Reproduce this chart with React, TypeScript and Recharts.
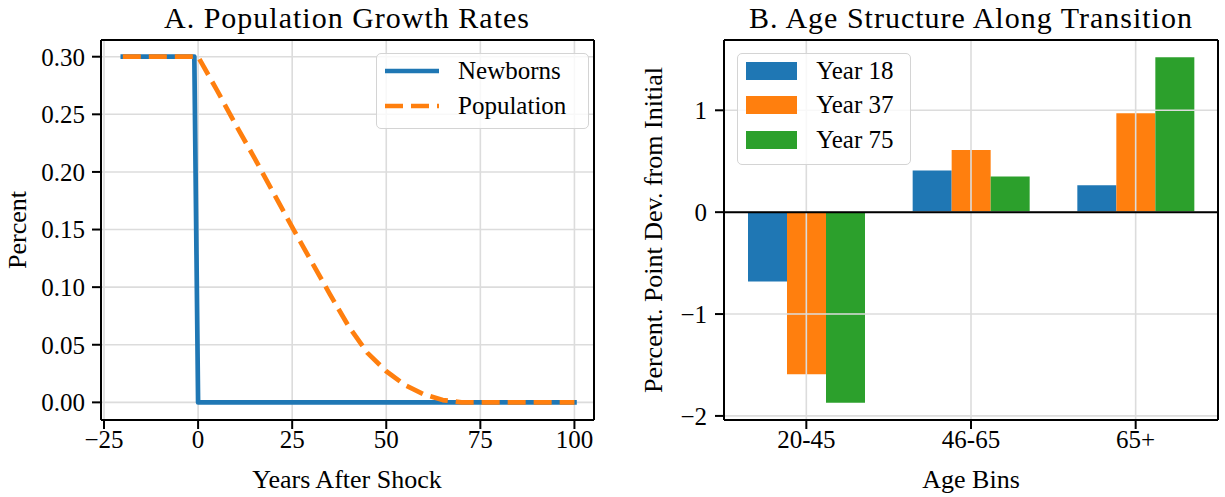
import {
    LineChart,
    Line,
    BarChart,
    Bar,
    XAxis,
    YAxis,
    CartesianGrid,
    ReferenceLine,
} from 'recharts';

// Panel A: growth rates (percent) by years after shock
const newbornYears = [-20, -1, 0, 100];
const newbornRates = [0.3, 0.3, 0.0, 0.0];
const populationYears = [-20, 0, 5, 10, 15, 20, 25, 30, 35, 40, 45, 50, 55, 60, 65, 70, 100];
const populationRates = [
    0.3, 0.3, 0.271, 0.241, 0.212, 0.182, 0.152, 0.123, 0.094, 0.066, 0.043, 0.027, 0.015,
    0.007, 0.002, 0.0, 0.0,
];
const growthXTicks = [-25, 0, 25, 50, 75, 100];
const growthYTicks = [0, 0.05, 0.1, 0.15, 0.2, 0.25, 0.3];

// Panel B: age structure, percent point deviation from initial
const ageBins = ['20-45', '46-65', '65+'];
const year18 = [-0.68, 0.41, 0.265];
const year37 = [-1.59, 0.61, 0.97];
const year75 = [-1.87, 0.35, 1.52];
const ageYTicks = [-2, -1, 0, 1];

const lineSeries = [
    { key: 'newborns', name: 'Newborns', color: '#1f77b4', dash: undefined as string | undefined },
    { key: 'population', name: 'Population', color: '#ff7f0e', dash: '18 8' },
];
const barSeries = [
    { key: 'y18', name: 'Year 18', color: '#1f77b4' },
    { key: 'y37', name: 'Year 37', color: '#ff7f0e' },
    { key: 'y75', name: 'Year 75', color: '#2ca02c' },
];

const allYears = Array.from(new Set([...newbornYears, ...populationYears])).sort((a, b) => a - b);
const growthTable = allYears.map((year) => {
    const n = newbornYears.indexOf(year);
    const p = populationYears.indexOf(year);
    return {
        year,
        newborns: n >= 0 ? newbornRates[n] : null,
        population: p >= 0 ? populationRates[p] : null,
    };
});

const ageTable = ageBins.map((bin, i) => ({
    bin,
    y18: year18[i],
    y37: year37[i],
    y75: year75[i],
}));

const FONT = '"Liberation Serif", "Times New Roman", serif';
const GRID = '#dcdcdc';
const tickStyle = { fill: '#000', fontSize: 25, fontFamily: FONT };
const blackLine = { stroke: '#000', strokeWidth: 2 };

const growthXDomain: [number, number] = [-25.8, 105.2];
const growthYDomain: [number, number] = [-0.0153, 0.3145];
const ageYDomain: [number, number] = [-2.04, 1.69];

const signed = (v: number) => (v < 0 ? `\u2212${Math.abs(v)}` : `${v}`);

export default function App() {
    return (
        <div
            style={{
                position: 'absolute',
                left: 0,
                top: 0,
                width: 1225,
                height: 497,
                background: '#fff',
                fontFamily: FONT,
                color: '#000',
            }}
        >
            {/* Titles and axis labels */}
            <svg
                width={1225}
                height={497}
                style={{ position: 'absolute', left: 0, top: 0 }}
                fontFamily={FONT}
            >
                <text x={347} y={28} fontSize={30} letterSpacing={1} textAnchor="middle">
                    A. Population Growth Rates
                </text>
                <text x={971} y={28} fontSize={30} letterSpacing={1} textAnchor="middle">
                    B. Age Structure Along Transition
                </text>
                <text x={347} y={488} fontSize={26} textAnchor="middle">
                    Years After Shock
                </text>
                <text x={971} y={488} fontSize={26} textAnchor="middle">
                    Age Bins
                </text>
                <text transform="translate(25.5,230) rotate(-90)" fontSize={26} textAnchor="middle">
                    Percent
                </text>
                <text transform="translate(661.5,230) rotate(-90)" fontSize={26} textAnchor="middle">
                    Percent. Point Dev. from Initial
                </text>
            </svg>

            {/* Panel A */}
            <div style={{ position: 'absolute', left: 0, top: 0 }}>
                <LineChart
                    width={612}
                    height={497}
                    data={growthTable}
                    margin={{ top: 39, right: 17, bottom: 37, left: 0 }}
                >
                    <CartesianGrid stroke={GRID} strokeWidth={1.6} />
                    <XAxis
                        type="number"
                        dataKey="year"
                        domain={growthXDomain}
                        ticks={growthXTicks}
                        allowDataOverflow
                        interval={0}
                        height={40}
                        tickSize={9}
                        tickMargin={1}
                        tick={tickStyle}
                        tickLine={blackLine}
                        axisLine={blackLine}
                        tickFormatter={signed}
                    />
                    <XAxis
                        xAxisId="top"
                        orientation="top"
                        type="number"
                        domain={growthXDomain}
                        allowDataOverflow
                        height={1}
                        tick={false}
                        tickLine={false}
                        axisLine={blackLine}
                    />
                    <YAxis
                        type="number"
                        domain={growthYDomain}
                        ticks={growthYTicks}
                        allowDataOverflow
                        interval={0}
                        width={101}
                        tickSize={9}
                        tickMargin={7}
                        tick={tickStyle}
                        tickLine={blackLine}
                        axisLine={blackLine}
                        tickFormatter={(v: number) => v.toFixed(2)}
                    />
                    <YAxis
                        yAxisId="right"
                        orientation="right"
                        type="number"
                        domain={growthYDomain}
                        allowDataOverflow
                        width={1}
                        tick={false}
                        tickLine={false}
                        axisLine={blackLine}
                    />
                    {lineSeries.map((s) => (
                        <Line
                            key={s.key}
                            type="linear"
                            dataKey={s.key}
                            name={s.name}
                            stroke={s.color}
                            strokeWidth={4.7}
                            strokeDasharray={s.dash}
                            strokeLinecap={s.dash ? 'butt' : 'square'}
                            strokeLinejoin="round"
                            dot={false}
                            activeDot={false}
                            connectNulls
                            isAnimationActive={false}
                        />
                    ))}
                </LineChart>
            </div>

            {/* Panel B */}
            <div style={{ position: 'absolute', left: 612, top: 0 }}>
                <BarChart
                    width={613}
                    height={497}
                    data={ageTable}
                    margin={{ top: 39, right: 6, bottom: 37, left: 0 }}
                    barGap={0}
                    barCategoryGap={24}
                >
                    <XAxis
                        dataKey="bin"
                        interval={0}
                        height={40}
                        tickSize={9}
                        tickMargin={1}
                        tick={tickStyle}
                        tickLine={blackLine}
                        axisLine={blackLine}
                    />
                    <XAxis
                        xAxisId="top"
                        orientation="top"
                        dataKey="bin"
                        height={1}
                        tick={false}
                        tickLine={false}
                        axisLine={blackLine}
                    />
                    <YAxis
                        type="number"
                        domain={ageYDomain}
                        ticks={ageYTicks}
                        allowDataOverflow
                        interval={0}
                        width={112}
                        tickSize={9}
                        tickMargin={8}
                        tick={tickStyle}
                        tickLine={blackLine}
                        axisLine={blackLine}
                        tickFormatter={signed}
                    />
                    <YAxis
                        yAxisId="right"
                        orientation="right"
                        type="number"
                        domain={ageYDomain}
                        allowDataOverflow
                        width={1}
                        tick={false}
                        tickLine={false}
                        axisLine={blackLine}
                    />
                    {barSeries.map((s) => (
                        <Bar
                            key={s.key}
                            dataKey={s.key}
                            name={s.name}
                            fill={s.color}
                            isAnimationActive={false}
                        />
                    ))}
                    {/* grid sits above the bars, as in the original */}
                    {ageBins.map((b) => (
                        <ReferenceLine key={`gx-${b}`} x={b} stroke={GRID} strokeWidth={1.6} />
                    ))}
                    {ageYTicks.map((t) => (
                        <ReferenceLine key={`gy-${t}`} y={t} stroke={GRID} strokeWidth={1.6} />
                    ))}
                    <ReferenceLine y={0} stroke="#000" strokeWidth={2} />
                </BarChart>
            </div>

            {/* Legend A */}
            <div
                style={{
                    position: 'absolute',
                    left: 376,
                    top: 52.7,
                    width: 213,
                    height: 76.3,
                    boxSizing: 'border-box',
                    border: '1.5px solid #d4d4d4',
                    borderRadius: 5,
                    background: 'rgba(255,255,255,0.8)',
                }}
            >
                {lineSeries.map((s, i) => (
                    <div
                        key={s.key}
                        style={{
                            position: 'absolute',
                            left: 7.5,
                            top: 35 * i,
                            height: 35,
                            display: 'flex',
                            alignItems: 'center',
                            fontSize: 25,
                            whiteSpace: 'nowrap',
                        }}
                    >
                        <svg width={54} height={10} style={{ marginRight: 19.5 }}>
                            <line
                                x1={0}
                                y1={5}
                                x2={54}
                                y2={5}
                                stroke={s.color}
                                strokeWidth={4.7}
                                strokeDasharray={s.dash}
                            />
                        </svg>
                        <span>{s.name}</span>
                    </div>
                ))}
            </div>

            {/* Legend B */}
            <div
                style={{
                    position: 'absolute',
                    left: 736.7,
                    top: 52.7,
                    width: 174,
                    height: 112.6,
                    boxSizing: 'border-box',
                    border: '1.5px solid #d4d4d4',
                    borderRadius: 5,
                    background: 'rgba(255,255,255,0.8)',
                }}
            >
                {barSeries.map((s, i) => (
                    <div
                        key={s.key}
                        style={{
                            position: 'absolute',
                            left: 8.8,
                            top: -0.7 + 35 * i,
                            height: 35,
                            display: 'flex',
                            alignItems: 'center',
                            fontSize: 25,
                            whiteSpace: 'nowrap',
                        }}
                    >
                        <span
                            style={{
                                display: 'inline-block',
                                width: 51,
                                height: 18,
                                background: s.color,
                                marginRight: 18.7,
                            }}
                        />
                        <span>{s.name}</span>
                    </div>
                ))}
            </div>
        </div>
    );
}
